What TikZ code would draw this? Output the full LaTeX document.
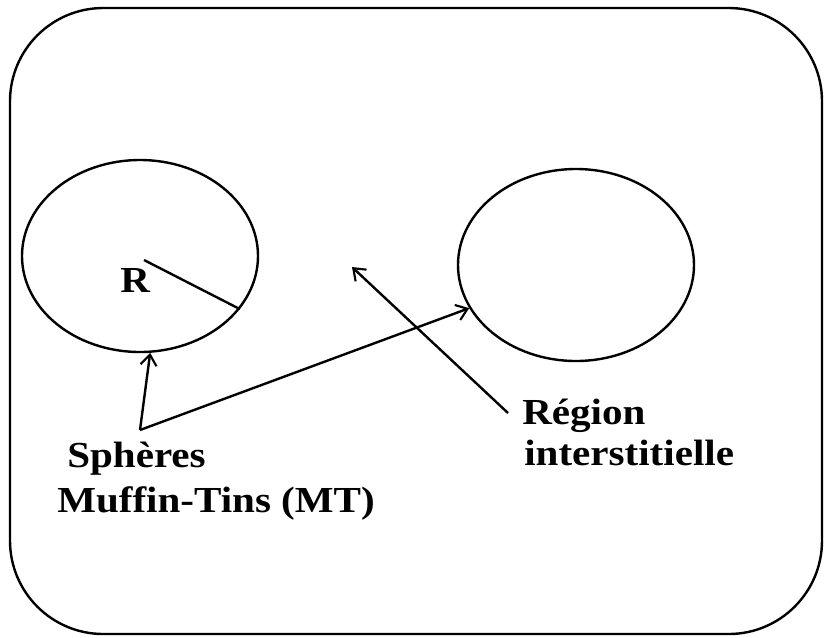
\documentclass[tikz,border=0pt]{standalone}
\usepackage{fontspec}
\setmainfont{Liberation Serif}
\usetikzlibrary{shapes.geometric,arrows.meta}
\tikzset{
  lbl/.style={font=\fontsize{27.5}{30}\selectfont\bfseries, inner sep=0pt, anchor=base west},
  ln/.style={line width=1.8pt, black},
  arr/.style={ln, -{Straight Barb[length=8pt,width=12pt,line width=1.6pt]}},
  sph/.style={ellipse, draw, line width=1.8pt, minimum width=177pt, minimum height=144pt, inner sep=0pt}
}
\newcommand{\sx}[1]{\scalebox{1.12}[1]{#1}}
\begin{document}
\begin{tikzpicture}[x=0.75pt,y=-0.75pt]
\useasboundingbox (0,0) rectangle (824,637);
\node[draw, line width=1.8pt, rounded corners=70pt, minimum width=609pt, minimum height=469.5pt, inner sep=0pt] (box) at (416,321) {};
\node[sph] (s1) at (140,256) {};
\node[sph] (s2) at (576,265) {};
\node[lbl] (R) at (120,292) {\sx{R}};
\node[lbl] (sp) at (67,467) {\sx{Sphères}};
\node[lbl] (mt) at (57,512) {\sx{Muffin-Tins (MT)}};
\node[lbl] (reg) at (522,424) {\sx{Région}};
\node[lbl] (int) at (524,465) {\sx{interstitielle}};
\coordinate (v) at (140,430);
\coordinate (ir) at (352,267);
\coordinate (rt) at (508,413);
\draw[ln] ([shift={(3pt,-3pt)}]s1.center) -- (s1.-28);
\draw[arr] (v) -- (s1.-84);
\draw[arr] (v) -- (s2.202);
\draw[arr] (rt) -- (ir);
\end{tikzpicture}
\end{document}
